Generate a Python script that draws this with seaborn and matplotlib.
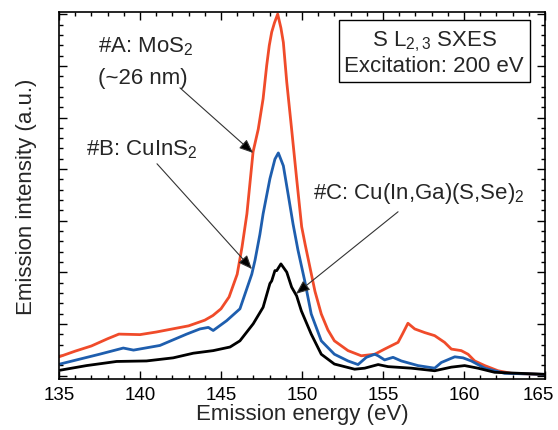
import numpy as np
import pandas as pd
import matplotlib
matplotlib.use("Agg")
import matplotlib.pyplot as plt
import matplotlib.transforms as mtransforms
import seaborn as sns

# emission energy (eV) and intensity (a.u.)
energy_a = [135.0, 136.0, 137.0, 138.0, 138.7, 140.0, 141.0, 142.0, 143.0, 144.0,
            144.5, 145.0, 145.5, 146.0, 146.3, 146.6, 146.98, 147.3, 147.6, 147.82,
            147.98, 148.13, 148.3, 148.5, 148.7, 148.85, 149.06, 149.36, 149.67, 149.98,
            150.2, 150.5, 150.8, 151.19, 151.6, 152.0, 152.84, 153.66, 154.49, 155.1,
            155.93, 156.2, 156.54, 156.96, 157.57, 158.19, 158.8, 159.22, 159.83, 160.25,
            160.66, 161.28, 162.1, 162.92, 164.77, 165.0]
intensity_a = [0.43, 0.54, 0.64, 0.78, 0.87, 0.86, 0.91, 0.97, 1.03, 1.14,
               1.23, 1.36, 1.59, 2.03, 2.56, 3.2, 4.4, 4.84, 5.43, 6.07,
               6.46, 6.72, 6.9, 7.07, 6.8, 6.52, 5.75, 4.84, 3.88, 2.95,
               2.6, 2.15, 1.7, 1.26, 0.95, 0.74, 0.55, 0.45, 0.48, 0.58,
               0.71, 0.87, 1.08, 0.97, 0.9, 0.84, 0.71, 0.58, 0.55, 0.48,
               0.35, 0.26, 0.16, 0.11, 0.09, 0.09]

energy_b = [135.06, 137.5, 138.97, 139.6, 141.23, 142.88, 143.7, 144.22, 144.52, 145.35,
            146.17, 146.9, 147.1, 147.4, 147.6, 148.02, 148.33, 148.54, 148.85, 149.16,
            149.45, 149.75, 150.17, 150.57, 151.19, 152.0, 152.84, 153.46, 153.97, 154.49,
            154.7, 155.1, 155.62, 156.13, 157.16, 158.19, 158.6, 159.43, 159.94, 160.45,
            161.28, 162.51, 165.0]
intensity_b = [0.29, 0.48, 0.6, 0.56, 0.65, 0.87, 0.97, 1.0, 0.94, 1.13,
               1.36, 2.03, 2.3, 2.8, 3.2, 3.88, 4.26, 4.38, 4.13, 3.55,
               3.0, 2.5, 1.9, 1.26, 0.74, 0.48, 0.35, 0.28, 0.42, 0.48,
               0.45, 0.37, 0.42, 0.35, 0.26, 0.21, 0.32, 0.43, 0.41, 0.35,
               0.21, 0.11, 0.09]

energy_c = [135.06, 136.7, 138.56, 140.4, 142.05, 143.29, 144.52, 145.56, 146.17, 146.99,
            147.6, 148.02, 148.13, 148.33, 148.44, 148.7, 149.06, 149.36, 149.67, 149.96,
            150.57, 151.19, 152.0, 153.25, 153.87, 154.7, 155.31, 156.75, 158.19, 159.22,
            160.04, 160.86, 161.89, 165.0]
intensity_c = [0.17, 0.26, 0.34, 0.35, 0.41, 0.5, 0.55, 0.62, 0.74, 1.07,
               1.39, 1.85, 1.9, 2.1, 2.1, 2.23, 2.07, 1.78, 1.61, 1.32,
               0.87, 0.48, 0.29, 0.19, 0.21, 0.28, 0.24, 0.21, 0.16, 0.23,
               0.26, 0.21, 0.13, 0.09]

samples = ["A", "B", "C"]
colors = ["#F04B2A", "#1E5EAE", "#000000"]

df = pd.concat([
    pd.DataFrame({"energy": energy_a, "intensity": intensity_a, "sample": "A"}),
    pd.DataFrame({"energy": energy_b, "intensity": intensity_b, "sample": "B"}),
    pd.DataFrame({"energy": energy_c, "intensity": intensity_c, "sample": "C"}),
])

sns.set_style("ticks")
plt.rcParams["font.family"] = ["Liberation Sans", "DejaVu Sans"]
plt.rcParams["mathtext.fontset"] = "custom"
plt.rcParams["mathtext.rm"] = "Liberation Sans"
plt.rcParams["mathtext.it"] = "Liberation Sans:italic"

fig, ax = plt.subplots(figsize=(5.58, 4.31), dpi=100)
fig.subplots_adjust(left=0.1057, right=0.9767, bottom=0.1183, top=0.9698)

sns.lineplot(data=df, x="energy", y="intensity", hue="sample", hue_order=samples,
             palette=colors, linewidth=2.0, legend=False, ax=ax, sort=False)

ax.set_xlim(135, 165)
ax.set_ylim(0, 7.11)
ax.set_xticks(np.arange(135, 166, 5))
ax.set_xticks(np.arange(135, 166, 1), minor=True)
ax.set_yticks(np.arange(0.066, 7.1, 1.0))
ax.set_yticks(np.arange(0.066, 7.1, 0.2), minor=True)
ax.set_yticklabels([])
ax.tick_params(which="both", direction="in", top=True, right=True, width=1.0, colors="black")
ax.tick_params(which="major", length=6)
ax.tick_params(which="minor", length=3)
ax.tick_params(axis="x", labelsize=13.5, pad=5)
for sp in ax.spines.values():
    sp.set_linewidth(1.2)
    sp.set_color("black")

# nudge the last tick label inward so it stays on the canvas
last = ax.get_xticklabels()[-1]
last.set_transform(last.get_transform() + mtransforms.ScaledTranslation(-5 / 72, 0, fig.dpi_scale_trans))

ax.set_xlabel("Emission energy (eV)", fontsize=16, labelpad=0)
ax.set_ylabel("Emission intensity (a.u.)", fontsize=16, labelpad=12)

ax.text(0.772, 0.891, "S L$_{2,3}$ SXES\nExcitation: 200 eV", transform=ax.transAxes,
        ha="center", va="center", fontsize=16, linespacing=1.15,
        bbox=dict(boxstyle="square,pad=0.25", fc="white", ec="black", lw=1.0))

ax.text(137.4, 6.45, "#A: MoS$_2$", fontsize=16, va="center")
ax.text(137.4, 5.85, "(~26 nm)", fontsize=16, va="center")
ax.text(136.67, 4.47, "#B: CuInS$_2$", fontsize=16, va="center")
ax.text(150.68, 3.62, "#C: Cu(In,Ga)(S,Se)$_2$", fontsize=16, va="center")

arrow = dict(arrowstyle="-|>,head_length=0.6,head_width=0.25", fc="black", ec="#333333",
             lw=0.8, mutation_scale=14, shrinkA=0, shrinkB=0)
ax.annotate("", xy=(146.98, 4.38), xytext=(142.47, 5.64), arrowprops=arrow)
ax.annotate("", xy=(146.91, 2.13), xytext=(141.05, 4.17), arrowprops=arrow)
ax.annotate("", xy=(149.63, 1.65), xytext=(155.93, 3.24), arrowprops=arrow)

fig.savefig("out.png", dpi=100)
